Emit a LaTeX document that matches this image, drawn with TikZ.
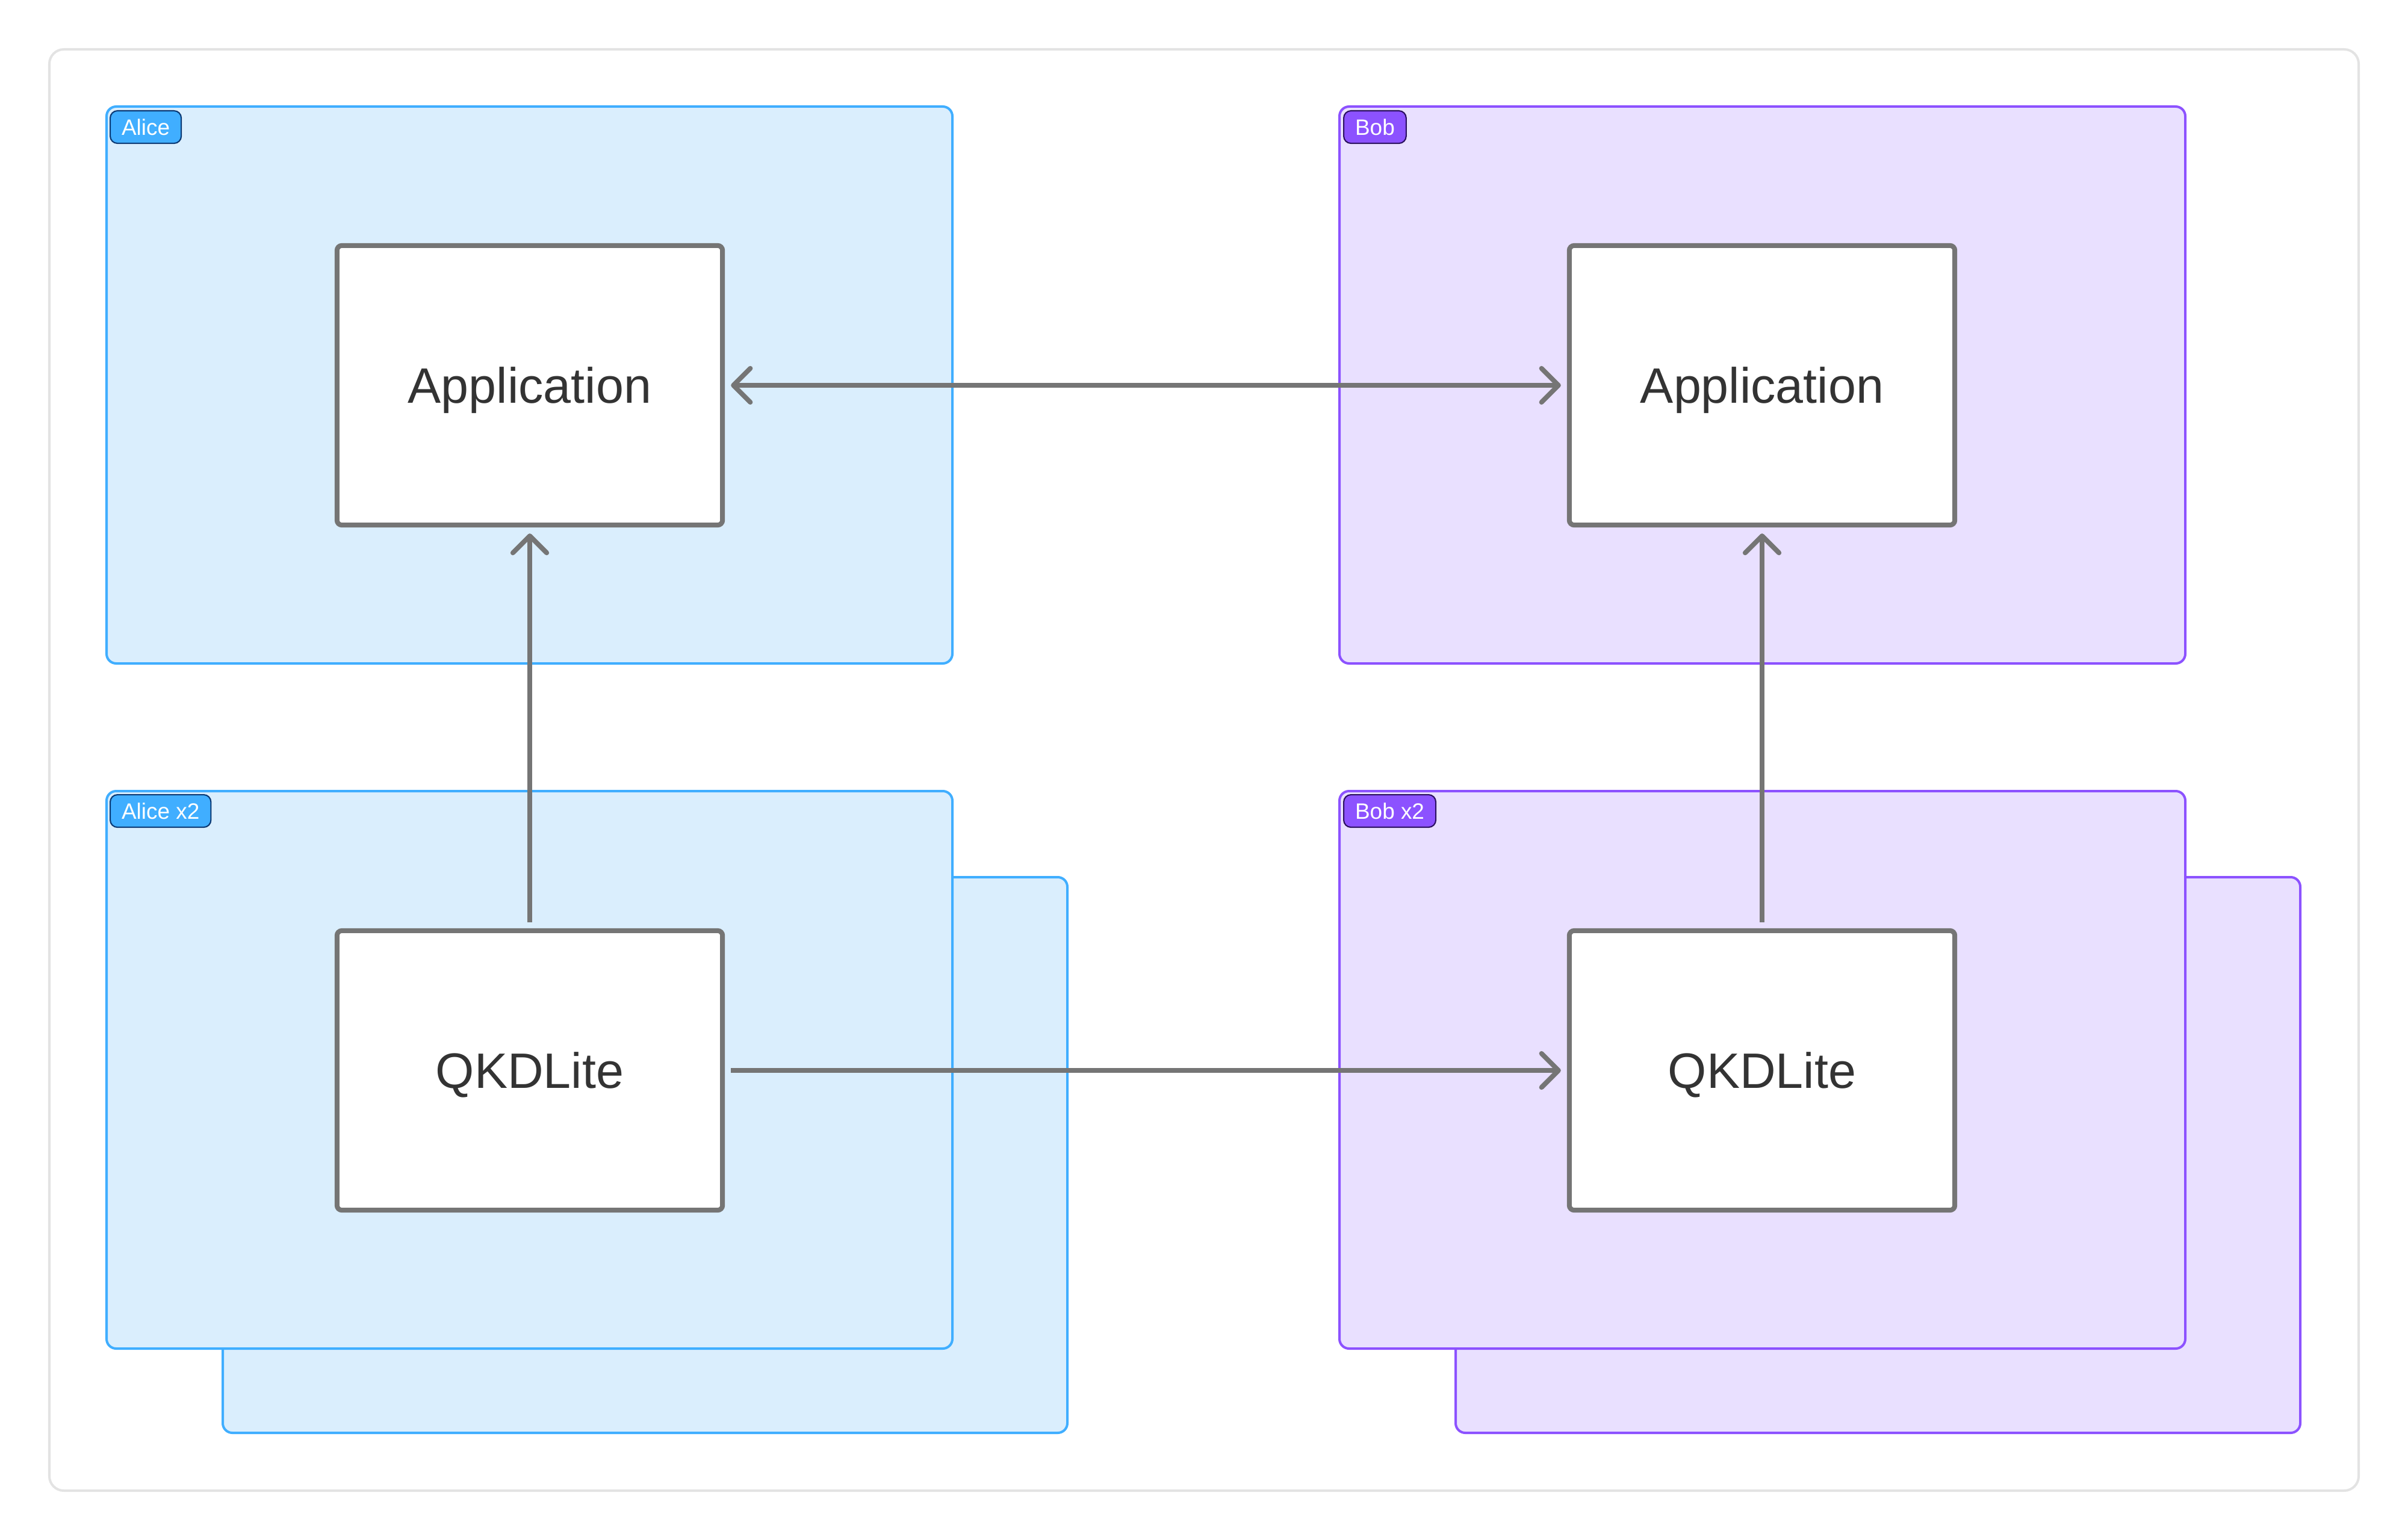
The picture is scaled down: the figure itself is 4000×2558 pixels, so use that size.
\documentclass[tikz,border=0pt]{standalone}
\usepackage{fontspec}
\setmainfont{Liberation Sans}
\usetikzlibrary{arrows.meta}
\definecolor{framegray}{HTML}{E3E3E3}
\definecolor{alicefill}{HTML}{DAEEFD}
\definecolor{aliceline}{HTML}{40AEFF}
\definecolor{alicedark}{HTML}{0B3A75}
\definecolor{bobfill}{HTML}{E9E0FF}
\definecolor{bobline}{HTML}{8C52FF}
\definecolor{bobdark}{HTML}{2B1060}
\definecolor{boxgray}{HTML}{757575}
\definecolor{txtgray}{HTML}{333333}
\tikzset{
  alicebox/.style={draw=aliceline, fill=alicefill, line width=1.14pt, rounded corners=0.16cm},
  bobbox/.style={draw=bobline, fill=bobfill, line width=1.14pt, rounded corners=0.16cm},
  badge/.style={anchor=north west, rounded corners=0.12cm, line width=0.6pt, text=white,
    inner xsep=0.19cm, inner ysep=0pt, minimum height=0.54cm,
    font=\fontsize{10.5}{12}\selectfont},
  alicebadge/.style={badge, draw=alicedark, fill=aliceline},
  bobbadge/.style={badge, draw=bobdark, fill=bobline},
  compbox/.style={draw=boxgray, fill=white, line width=2.28pt, rounded corners=0.08cm,
    minimum width=6.4cm, minimum height=4.64cm, text=txtgray,
    text height=19pt, text depth=2pt,
    font=\fontsize{23.5}{28}\selectfont},
  tipb/.tip={Straight Barb[length=8pt,width=16pt,line cap=round,line join=round]},
  arr/.style={draw=boxgray, line width=2.28pt, -tipb,
    shorten <=0.1cm, shorten >=0.1cm},
}
\begin{document}
\begin{tikzpicture}[x=0.01cm,y=-0.01cm]
\useasboundingbox (0,0) rectangle (4000,2558);
% outer frame
\draw[framegray, line width=1.14pt, rounded corners=0.24cm] (82,82) rectangle (3918,2476);
% Alice containers
\draw[alicebox] (370,1457) rectangle (1773,2380);
\draw[alicebox] (177,1314) rectangle (1582,2240);
\draw[alicebox] (177,177) rectangle (1582,1102);
% Bob containers
\draw[bobbox] (2418,1457) rectangle (3821,2380);
\draw[bobbox] (2225,1314) rectangle (3630,2240);
\draw[bobbox] (2225,177) rectangle (3630,1102);
% badges
\node[alicebadge] (lblA) at (182,183) {Alice};
\node[alicebadge] (lblA2) at (182,1319) {Alice x2};
\node[bobbadge] (lblB) at (2231,183) {Bob};
\node[bobbadge] (lblB2) at (2231,1319) {Bob x2};
% component boxes
\node[compbox] (appL) at (880,640) {Application};
\node[compbox] (appR) at (2927,640) {Application};
\node[compbox] (qkdL) at (880,1778) {QKDLite};
\node[compbox] (qkdR) at (2927,1778) {QKDLite};
% connectors
\draw[arr, tipb-tipb] (appL) -- (appR);
\draw[arr] (qkdL) -- (appL);
\draw[arr] (qkdR) -- (appR);
\draw[arr] (qkdL) -- (qkdR);
\end{tikzpicture}
\end{document}
